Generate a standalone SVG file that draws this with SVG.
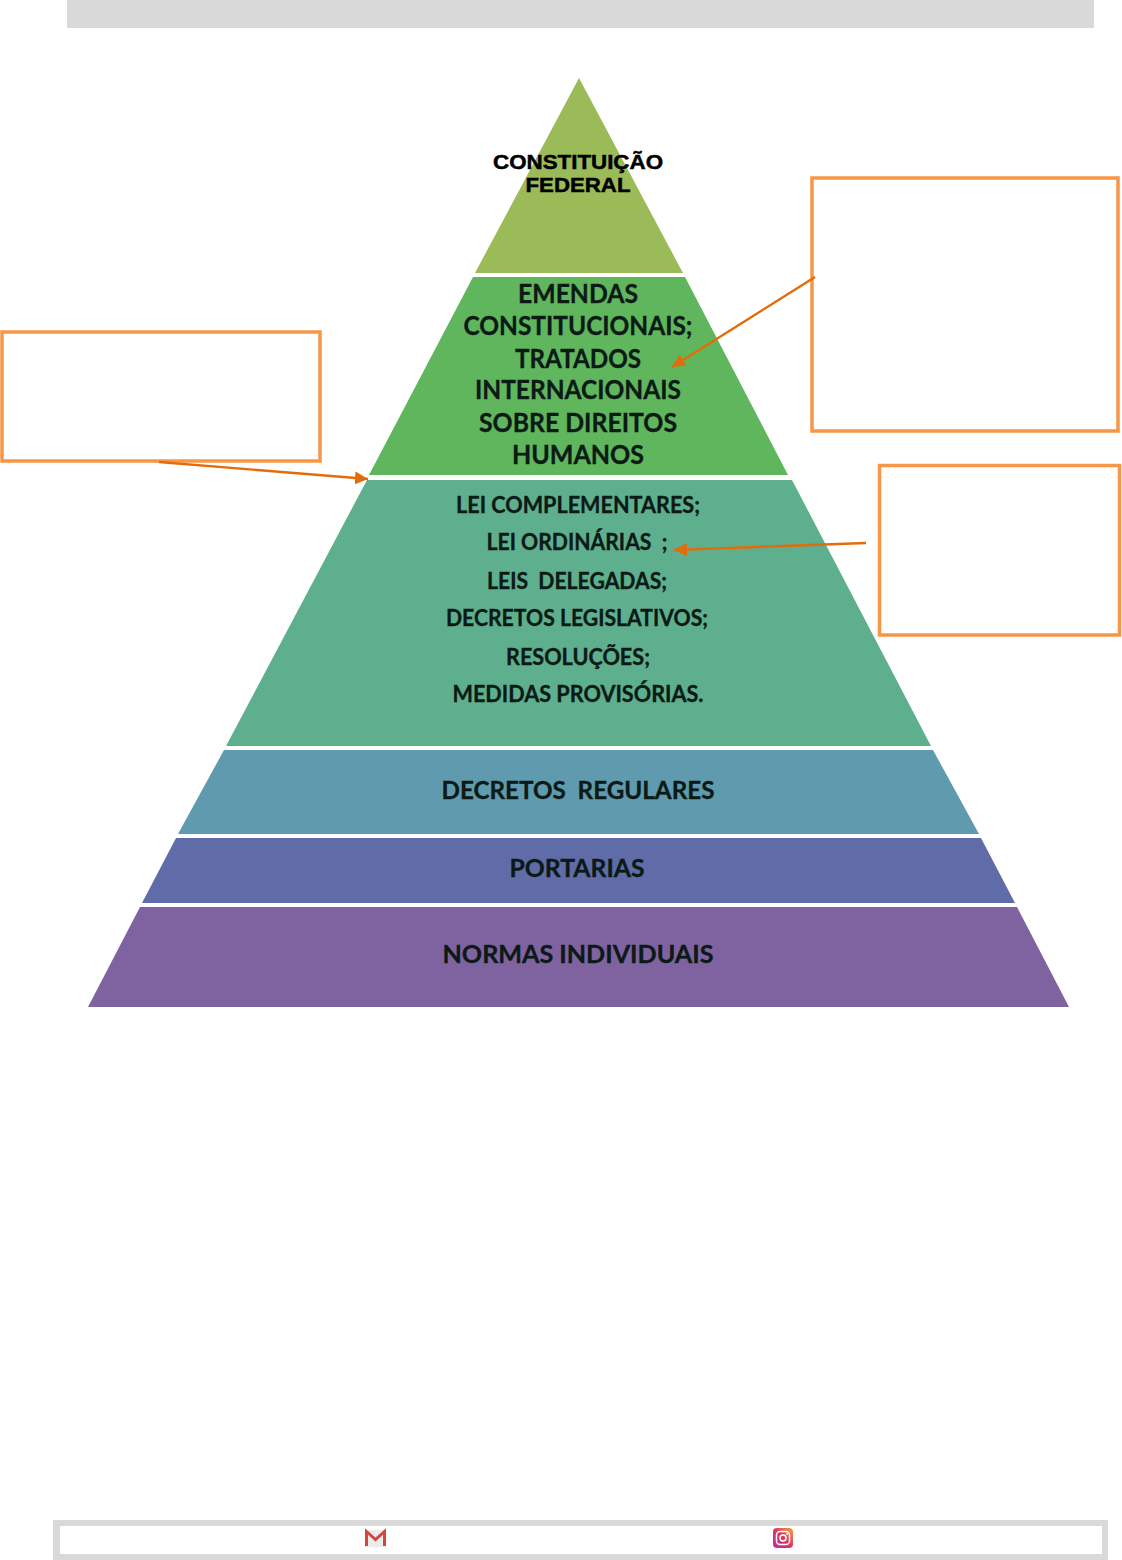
<svg xmlns="http://www.w3.org/2000/svg" width="1122" height="1560" viewBox="0 0 1122 1560">
<style>
.t{font-family:"Lato","Carlito","Liberation Sans",sans-serif;font-weight:700;fill:#0c1a16;stroke:#0c1a16;stroke-width:.35;text-anchor:middle;white-space:pre}
.a{font-family:"Liberation Sans",Arial,sans-serif;font-weight:700;fill:#000;stroke:#000;stroke-width:.5;text-anchor:middle;font-size:21px}
.l1{font-size:26px}.l3{font-size:22px}.l4{font-size:25px}
.box{fill:#fff;stroke:#f79646;stroke-width:3.500}
.band{fill:#d9d9d9}
.cn{fill:none;stroke:#e36c0a;stroke-width:2.400;marker-end:url(#ah)}
</style>
<defs>
<marker id="ah" markerUnits="userSpaceOnUse" markerWidth="14" markerHeight="13" refX="13" refY="6.500" orient="auto"><path d="M0 0L13 6.500L0 13Z" fill="#e36c0a"/></marker>
<linearGradient id="ig" x1="0" y1="1" x2="1" y2="0"><stop offset="0" stop-color="#b82fa8"/><stop offset=".5" stop-color="#e0335f"/><stop offset="1" stop-color="#f4a63a"/></linearGradient>
</defs>
<rect class="band" x="67" y="0" width="1027" height="28"/>
<g id="tier-constituicao"><polygon points="579,78 683,273 475,273" fill="#9bbb59"/>
<text class="a" x="578" y="169" textLength="170" lengthAdjust="spacingAndGlyphs">CONSTITUIÇÃO</text><text class="a" x="578" y="192" textLength="105" lengthAdjust="spacingAndGlyphs">FEDERAL</text></g>
<g id="tier-emendas"><polygon points="473,277 685,277 788,475 369,475" fill="#5fb65c"/>
<text class="t l1" x="578" y="303" textLength="120" lengthAdjust="spacingAndGlyphs">EMENDAS</text>
<text class="t l1" x="578" y="335" textLength="229" lengthAdjust="spacingAndGlyphs">CONSTITUCIONAIS;</text>
<text class="t l1" x="578" y="368" textLength="126" lengthAdjust="spacingAndGlyphs">TRATADOS</text>
<text class="t l1" x="578" y="399" textLength="206" lengthAdjust="spacingAndGlyphs">INTERNACIONAIS</text>
<text class="t l1" x="578" y="432" textLength="198" lengthAdjust="spacingAndGlyphs">SOBRE DIREITOS</text>
<text class="t l1" x="578" y="464" textLength="132" lengthAdjust="spacingAndGlyphs">HUMANOS</text></g>
<g id="tier-leis"><polygon points="367,480 792,480 931,746 226,746" fill="#5eaf8e"/>
<text class="t l3" x="578" y="513" textLength="244" lengthAdjust="spacingAndGlyphs">LEI COMPLEMENTARES;</text>
<text class="t l3" x="577" y="550" textLength="181" lengthAdjust="spacingAndGlyphs">LEI ORDINÁRIAS  ;</text>
<text class="t l3" x="577" y="589" textLength="180" lengthAdjust="spacingAndGlyphs">LEIS  DELEGADAS;</text>
<text class="t l3" x="577" y="626" textLength="262" lengthAdjust="spacingAndGlyphs">DECRETOS LEGISLATIVOS;</text>
<text class="t l3" x="578" y="665" textLength="144" lengthAdjust="spacingAndGlyphs">RESOLUÇÕES;</text>
<text class="t l3" x="578" y="702" textLength="251" lengthAdjust="spacingAndGlyphs">MEDIDAS PROVISÓRIAS.</text></g>
<g id="tier-decretos"><polygon points="224,750 933,750 979,834 178,834" fill="#5f9aaf"/>
<text class="t l4" x="578" y="799" textLength="273" lengthAdjust="spacingAndGlyphs">DECRETOS  REGULARES</text></g>
<g id="tier-portarias"><polygon points="176,838 981,838 1015,903 142,903" fill="#606ca8"/>
<text class="t l4" x="577" y="877" textLength="135" lengthAdjust="spacingAndGlyphs">PORTARIAS</text></g>
<g id="tier-normas"><polygon points="140,907 1017,907 1069,1007 88,1007" fill="#7f63a1"/>
<text class="t l4" x="578" y="963" textLength="271" lengthAdjust="spacingAndGlyphs">NORMAS INDIVIDUAIS</text></g>
<g id="box-left"><rect class="box" x="2" y="332" width="318" height="129"/></g>
<g id="box-top-right"><rect class="box" x="812" y="178" width="306" height="253"/></g>
<g id="box-right"><rect class="box" x="879.500" y="465.500" width="240" height="169.500"/></g>
<g id="connectors">
<line class="cn" x1="159" y1="462" x2="368" y2="479"/>
<line class="cn" x1="815" y1="277" x2="672" y2="367"/>
<line class="cn" x1="866" y1="543" x2="674" y2="550"/>
</g>
<g id="footer"><path class="band" fill-rule="evenodd" d="M53 1520H1108V1560H53ZM60 1526V1554H1102V1526Z"/></g>
<g id="icon-gmail"><rect x="365" y="1530" width="21" height="17" fill="#ececec"/>
<path d="M366.500 1546V1531.500L375.500 1539.500L384.500 1531.500V1546" fill="none" stroke="#d2473b" stroke-width="3"/></g>
<g id="icon-instagram"><rect x="773" y="1528" width="20" height="20" rx="4" fill="url(#ig)"/>
<rect x="776.500" y="1531.500" width="13" height="13" rx="3.500" fill="none" stroke="#fff" stroke-width="1.500"/><circle cx="783" cy="1538" r="3" fill="none" stroke="#fff" stroke-width="1.500"/><circle cx="787" cy="1534" r=".9" fill="#fff"/></g>
</svg>
